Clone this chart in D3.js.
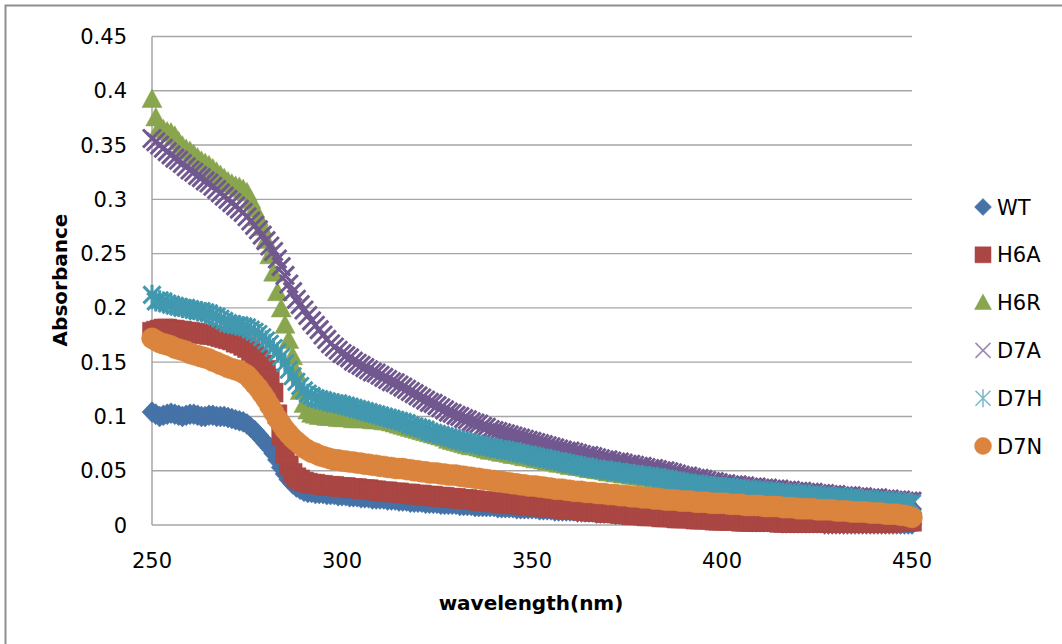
<!DOCTYPE html>
<html>
<head>
<meta charset="utf-8">
<script src="https://cdn.jsdelivr.net/npm/d3@7"></script>
<style>
  body { margin: 0; background: #fff; }
  svg { display: block; }
  text { font-family: "DejaVu Sans", sans-serif; fill: #000; }
</style>
</head>
<body>
<div id="chart"></div>
<script>
// wavelength grid, 1 nm steps
const wavelength = d3.range(250, 451);

const xTicks = [250, 300, 350, 400, 450];
const yTicks = [0, 0.05, 0.1, 0.15, 0.2, 0.25, 0.3, 0.35, 0.4, 0.45];
const seriesNames = ["WT", "H6A", "H6R", "D7A", "D7H", "D7N"];

const wt = [
  .104,.102,.100,.101,.102,.103,.102,.101,.100,.101,
  .102,.102,.101,.100,.100,.101,.101,.100,.100,.100,
  .099,.098,.097,.096,.095,.093,.090,.087,.083,.079,
  .075,.071,.066,.060,.053,.047,.042,.038,.035,.033,
  .031,.030,.030,.029,.029,.029,.028,.028,.028,.027,
  .027,.027,.026,.026,.026,.025,.025,.025,.024,.024,
  .024,.024,.023,.023,.023,.022,.022,.022,.021,.021,
  .021,.021,.020,.020,.020,.020,.019,.019,.019,.019,
  .019,.018,.018,.018,.018,.017,.017,.017,.017,.017,
  .017,.016,.016,.016,.016,.016,.015,.015,.015,.015,
  .015,.015,.014,.014,.014,.014,.013,.013,.013,.013,
  .013,.013,.012,.012,.012,.012,.012,.011,.011,.011,
  .011,.011,.010,.010,.010,.010,.010,.009,.009,.009,
  .009,.009,.008,.008,.008,.008,.008,.007,.007,.007,
  .007,.007,.006,.006,.006,.006,.006,.005,.005,.005,
  .005,.005,.005,.004,.004,.004,.004,.004,.003,.003,
  .003,.003,.003,.003,.003,.003,.002,.002,.002,.002,
  .002,.002,.002,.002,.002,.002,.002,.001,.001,.001,
  .001,.001,.001,.001,.001,.001,.001,.001,.001,.001,
  .001,.001,.001,.001,.001,.001,.001,.001,.001,.001,
  .001
];

const h6a = [
  .178,.179,.180,.181,.181,.180,.180,.179,.179,.178,
  .178,.177,.177,.176,.176,.175,.175,.174,.173,.172,
  .171,.170,.168,.167,.165,.163,.160,.157,.153,.148,
  .143,.135,.122,.102,.082,.066,.055,.048,.044,.042,
  .040,.039,.038,.038,.037,.037,.036,.036,.036,.035,
  .035,.035,.034,.034,.034,.033,.033,.033,.032,.032,
  .031,.031,.031,.030,.030,.030,.029,.029,.029,.028,
  .028,.028,.027,.027,.027,.026,.026,.026,.025,.025,
  .025,.024,.024,.024,.023,.023,.022,.022,.022,.021,
  .021,.021,.020,.020,.020,.019,.019,.019,.018,.018,
  .018,.017,.017,.017,.016,.016,.016,.015,.015,.015,
  .014,.014,.014,.013,.013,.013,.012,.012,.012,.011,
  .011,.011,.011,.010,.010,.010,.009,.009,.009,.009,
  .008,.008,.008,.008,.007,.007,.007,.007,.006,.006,
  .006,.006,.006,.005,.005,.005,.005,.005,.004,.004,
  .004,.004,.004,.004,.004,.003,.003,.003,.003,.003,
  .003,.003,.003,.003,.003,.002,.002,.002,.002,.002,
  .002,.002,.002,.002,.002,.002,.002,.002,.002,.002,
  .002,.002,.002,.002,.002,.002,.002,.002,.002,.002,
  .002,.002,.002,.002,.002,.002,.003,.003,.003,.003,
  .003
];

const h6r = [
  .392,.375,.366,.364,.362,.361,.358,.353,.349,.346,
  .344,.341,.338,.335,.333,.331,.328,.325,.322,.319,
  .316,.314,.312,.311,.309,.306,.299,.291,.283,.274,
  .262,.248,.232,.214,.199,.184,.170,.155,.140,.123,
  .111,.105,.102,.101,.100,.100,.099,.099,.099,.098,
  .098,.098,.098,.097,.097,.097,.097,.097,.096,.096,
  .096,.095,.095,.094,.093,.092,.091,.090,.089,.088,
  .087,.086,.085,.084,.083,.082,.081,.080,.078,.077,
  .076,.075,.074,.073,.072,.072,.071,.070,.069,.068,
  .068,.067,.066,.066,.065,.064,.064,.063,.062,.062,
  .061,.060,.060,.059,.058,.058,.057,.056,.056,.055,
  .054,.054,.053,.053,.052,.051,.051,.050,.050,.049,
  .048,.048,.047,.047,.046,.046,.045,.045,.044,.044,
  .043,.043,.042,.042,.041,.041,.040,.040,.039,.039,
  .038,.038,.037,.037,.036,.036,.035,.035,.034,.034,
  .033,.033,.033,.032,.032,.032,.031,.031,.031,.030,
  .030,.030,.029,.029,.029,.028,.028,.028,.027,.027,
  .027,.027,.026,.026,.026,.025,.025,.025,.024,.024,
  .024,.024,.023,.023,.023,.022,.022,.022,.021,.021,
  .021,.021,.020,.020,.020,.019,.019,.019,.018,.018,
  .018
];

const d7a = [
  .356,.353,.350,.347,.344,.341,.338,.336,.333,.330,
  .327,.325,.322,.320,.317,.315,.312,.309,.306,.303,
  .300,.297,.294,.291,.288,.284,.280,.276,.272,.267,
  .262,.257,.252,.245,.238,.230,.222,.215,.208,.203,
  .198,.193,.188,.184,.180,.175,.171,.167,.164,.161,
  .158,.156,.154,.151,.149,.147,.145,.143,.141,.140,
  .138,.136,.134,.132,.131,.129,.127,.125,.123,.121,
  .119,.117,.115,.113,.112,.110,.108,.106,.104,.103,
  .101,.100,.098,.097,.095,.094,.093,.091,.090,.088,
  .087,.086,.085,.084,.083,.082,.081,.080,.079,.078,
  .077,.076,.075,.074,.073,.072,.071,.070,.069,.068,
  .068,.067,.066,.065,.064,.064,.063,.062,.061,.060,
  .060,.059,.058,.058,.057,.056,.056,.055,.054,.054,
  .053,.052,.052,.051,.050,.050,.049,.048,.047,.046,
  .045,.045,.044,.043,.043,.042,.041,.040,.040,.039,
  .038,.038,.037,.037,.037,.036,.036,.035,.035,.035,
  .034,.034,.034,.033,.033,.033,.032,.032,.032,.031,
  .031,.031,.030,.030,.030,.029,.029,.029,.028,.028,
  .028,.027,.027,.027,.027,.026,.026,.026,.025,.025,
  .025,.025,.024,.024,.024,.023,.023,.023,.022,.022,
  .022
];

const d7h = [
  .212,.206,.207,.206,.204,.203,.202,.201,.200,.200,
  .199,.198,.197,.197,.196,.195,.193,.192,.190,.188,
  .186,.185,.184,.184,.183,.182,.180,.178,.176,.173,
  .170,.167,.163,.159,.155,.149,.143,.137,.132,.128,
  .124,.121,.119,.117,.116,.115,.114,.113,.112,.112,
  .111,.110,.109,.108,.107,.106,.105,.104,.103,.102,
  .101,.100,.099,.098,.097,.096,.095,.094,.092,.091,
  .090,.089,.088,.086,.085,.084,.083,.082,.081,.080,
  .079,.078,.077,.076,.075,.075,.074,.073,.072,.072,
  .071,.070,.070,.069,.068,.068,.067,.066,.065,.065,
  .064,.063,.062,.062,.061,.060,.059,.059,.058,.057,
  .056,.056,.055,.054,.054,.053,.052,.052,.051,.051,
  .050,.050,.049,.049,.048,.048,.047,.047,.046,.046,
  .045,.045,.044,.044,.043,.043,.042,.041,.041,.040,
  .039,.039,.038,.038,.037,.037,.037,.036,.036,.035,
  .035,.035,.034,.034,.034,.033,.033,.033,.032,.032,
  .032,.031,.031,.031,.030,.030,.030,.029,.029,.029,
  .029,.028,.028,.028,.027,.027,.027,.027,.026,.026,
  .026,.025,.025,.025,.025,.024,.024,.024,.023,.023,
  .023,.023,.022,.022,.022,.022,.021,.021,.021,.020,
  .020
];

const d7n = [
  .172,.170,.168,.167,.166,.165,.163,.162,.161,.160,
  .158,.157,.156,.155,.154,.153,.151,.150,.148,.147,
  .145,.144,.143,.142,.140,.138,.134,.130,.126,.121,
  .116,.110,.104,.098,.093,.088,.084,.080,.077,.074,
  .071,.069,.067,.066,.064,.063,.062,.061,.060,.060,
  .059,.059,.058,.058,.057,.057,.056,.056,.055,.055,
  .054,.054,.053,.053,.052,.052,.052,.051,.051,.050,
  .050,.049,.049,.048,.048,.048,.047,.047,.046,.046,
  .046,.045,.045,.044,.044,.043,.043,.042,.042,.041,
  .041,.040,.040,.039,.039,.038,.038,.037,.037,.036,
  .036,.036,.035,.035,.034,.034,.033,.033,.033,.032,
  .032,.031,.031,.031,.030,.030,.030,.029,.029,.029,
  .028,.028,.028,.027,.027,.027,.026,.026,.026,.025,
  .025,.025,.024,.024,.024,.023,.023,.023,.023,.022,
  .022,.022,.022,.021,.021,.021,.021,.020,.020,.020,
  .020,.020,.019,.019,.019,.019,.018,.018,.018,.018,
  .018,.017,.017,.017,.017,.017,.016,.016,.016,.016,
  .015,.015,.015,.015,.015,.014,.014,.014,.014,.014,
  .013,.013,.013,.013,.012,.012,.012,.012,.012,.011,
  .011,.011,.011,.010,.010,.010,.010,.009,.009,.008,
  .007
];

const seriesValues = [wt, h6a, h6r, d7a, d7h, d7n];
const seriesColors = ["#4572A7", "#AA4643", "#89A54E", "#71588F", "#4198AF", "#DB843D"];

// marker shapes in the plot (relative to point)
const shapes = {
  WT:  { d: "M0,-10.5L10,0L0,10.5L-10,0Z", fill: true },
  H6A: { d: "M-9.5,-9.5H9.5V9.5H-9.5Z", fill: true },
  H6R: { d: "M0,-10.5L10,8H-10Z", fill: true },
  D7A: { d: "M-9,-9L9,9M-9,9L9,-9", fill: false },
  D7H: { d: "M-8.5,-8.5L8.5,8.5M-8.5,8.5L8.5,-8.5M0,-10V10", fill: false },
  D7N: { d: "M-10.5,0A10.5,10.5 0 1,0 10.5,0A10.5,10.5 0 1,0 -10.5,0Z", fill: true }
};

// smaller versions for the legend
const legendShapes = {
  WT:  "M0,-8.5L8.5,0L0,8.5L-8.5,0Z",
  H6A: "M-8,-8H8V8H-8Z",
  H6R: "M0,-8.5L8.5,7H-8.5Z",
  D7A: "M-7.5,-7.5L7.5,7.5M-7.5,7.5L7.5,-7.5",
  D7H: "M-7.5,-7.5L7.5,7.5M-7.5,7.5L7.5,-7.5M0,-9V9",
  D7N: "M-8.5,0A8.5,8.5 0 1,0 8.5,0A8.5,8.5 0 1,0 -8.5,0Z"
};

const width = 1062, height = 644;
const svg = d3.select("#chart").append("svg")
    .attr("width", width)
    .attr("height", height);

// outer frame
svg.append("rect")
    .attr("x", 5.5).attr("y", 5.5)
    .attr("width", 1200).attr("height", 800)
    .attr("fill", "none")
    .attr("stroke", "#8e8e8e")
    .attr("stroke-width", 2);

const x = d3.scaleLinear().domain([250, 450]).range([152, 912]);
const y = d3.scaleLinear().domain([0, 0.45]).range([525, 36.5]);

// gridlines
svg.append("g")
    .selectAll("line")
    .data(yTicks)
    .enter()
    .append("line")
    .attr("x1", x(250)).attr("x2", x(450))
    .attr("y1", d => y(d)).attr("y2", d => y(d))
    .attr("stroke", "#a6a6a6")
    .attr("stroke-width", 1.4);

// y axis line
svg.append("line")
    .attr("x1", x(250)).attr("x2", x(250))
    .attr("y1", y(0.45)).attr("y2", y(0))
    .attr("stroke", "#a0a0a0")
    .attr("stroke-width", 1.4);

// y tick labels
svg.append("g")
    .selectAll("text")
    .data(yTicks)
    .enter()
    .append("text")
    .attr("x", 127)
    .attr("y", d => y(d))
    .attr("dy", "0.36em")
    .attr("text-anchor", "end")
    .style("font-size", "21px")
    .text(d => d3.format("")(+d.toFixed(2)));

// x tick labels
svg.append("g")
    .selectAll("text")
    .data(xTicks)
    .enter()
    .append("text")
    .attr("x", d => x(d))
    .attr("y", 568)
    .attr("text-anchor", "middle")
    .style("font-size", "21px")
    .text(d => d);

// series markers
seriesNames.forEach((name, i) => {
    const shape = shapes[name];
    const color = seriesColors[i];
    svg.append("g")
        .selectAll("path")
        .data(wavelength.map((w, j) => ({ w: w, v: seriesValues[i][j] })))
        .enter()
        .append("path")
        .attr("transform", d => `translate(${x(d.w)},${y(d.v)})`)
        .attr("d", shape.d)
        .attr("fill", shape.fill ? color : "none")
        .attr("stroke", color)
        .attr("stroke-width", shape.fill ? 0.5 : 3);
});

// axis titles
svg.append("text")
    .attr("transform", "translate(60,280) rotate(-90)")
    .attr("dy", "0.35em")
    .attr("text-anchor", "middle")
    .style("font-size", "20px")
    .style("font-weight", "bold")
    .text("Absorbance");

svg.append("text")
    .attr("x", 531)
    .attr("y", 610)
    .attr("text-anchor", "middle")
    .style("font-size", "20px")
    .style("font-weight", "bold")
    .text("wavelength(nm)");

// legend
const legend = svg.append("g")
    .selectAll("g")
    .data(seriesNames)
    .enter()
    .append("g")
    .attr("transform", (d, i) => `translate(983,${207 + i * 47.8})`);

legend.append("path")
    .attr("d", d => legendShapes[d])
    .attr("fill", (d, i) => shapes[d].fill ? seriesColors[i] : "none")
    .attr("stroke", (d, i) => seriesColors[i])
    .attr("stroke-opacity", d => shapes[d].fill ? 1 : 0.7)
    .attr("stroke-width", d => shapes[d].fill ? 0.5 : 1.5);

legend.append("text")
    .attr("x", 14)
    .attr("dy", "0.36em")
    .style("font-size", "21px")
    .text(d => d);
</script>
</body>
</html>
